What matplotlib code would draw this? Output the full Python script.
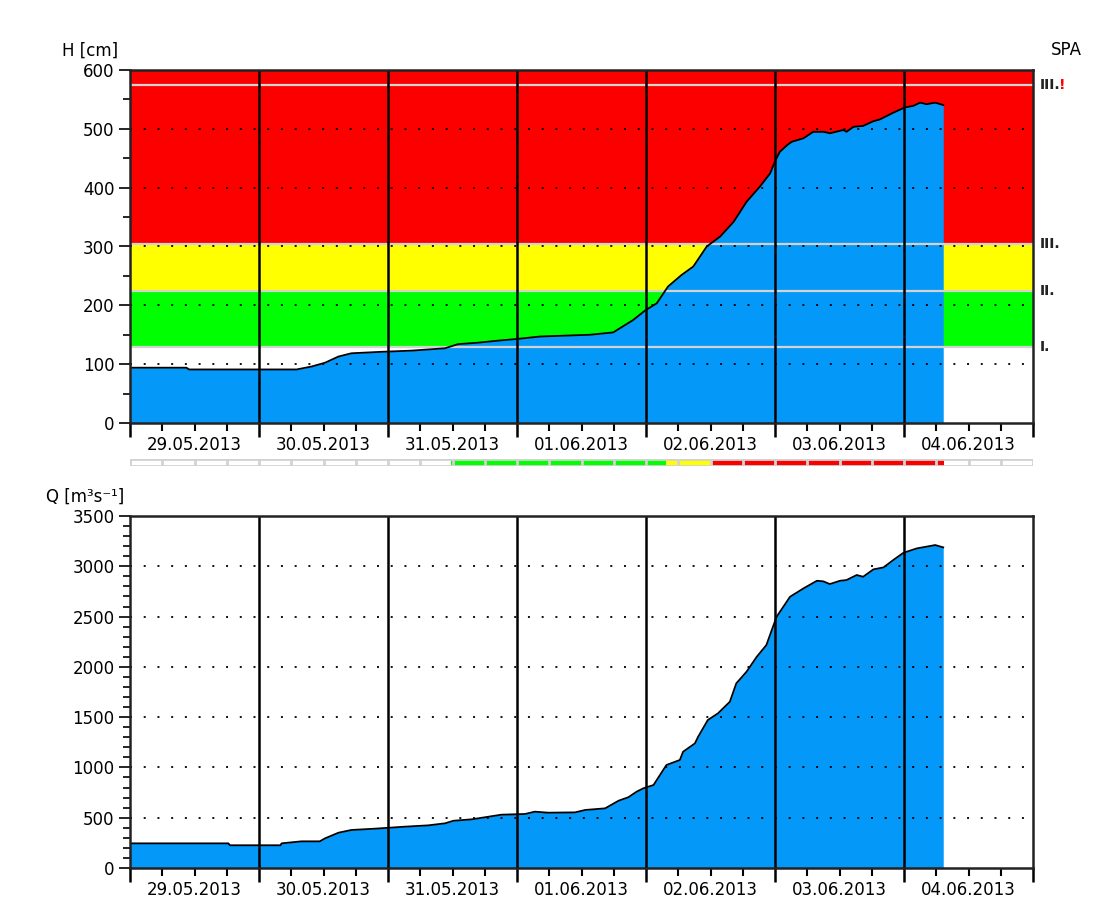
import datetime as dt
import matplotlib
matplotlib.use("Agg")
import matplotlib.pyplot as plt
import numpy as np

# ---------------- data ----------------
start = dt.datetime(2013, 5, 29)
day_labels = ["29.05.2013", "30.05.2013", "31.05.2013", "01.06.2013",
              "02.06.2013", "03.06.2013", "04.06.2013"]

h_hours = [0, 10.5, 11, 31, 33.8, 36.3, 38.8, 41.2, 46.8, 52.4, 58.6, 61, 64.7,
           68.5, 72.2, 76.3, 85.6, 89.9, 93.6, 95.8, 98, 100.1, 102.6, 104.8,
           107.3, 109.8, 112.3, 114.7, 117.2, 119.1, 120, 120.9, 122.2, 123.1,
           125.3, 127.1, 129, 130.2, 132.7, 133.3, 134.6, 136.4, 138.3, 139.5,
           142, 144.2, 145.7, 147, 148.2, 149.8, 151.3]
h_values = [94, 94, 91, 91, 96, 102.5, 113, 118.5, 121, 123, 127, 134, 136.5,
            140, 143, 147, 150, 154, 175, 191, 203.5, 232, 251.5, 266,
            300, 317, 342, 376, 402, 424.5, 445, 461, 472, 478,
            484, 495, 495, 492.5, 498, 495, 503.5, 505, 513, 516,
            527.5, 536.5, 539, 544.5, 542, 544.5, 540.5]

q_hours = [0, 18.3, 18.6, 28, 28.2, 31.9, 35.3, 36.3, 38.8, 41.2, 45.6, 51.2,
           55.5, 58.6, 60.2, 63.6, 66, 69.1, 73.5, 75.3, 77.8, 82.8, 84.7, 88.4,
           90.9, 92.7, 94.3, 95.5, 97.4, 99.8, 102.3, 102.9, 105.1, 105.7, 107.5,
           109.4, 111.6, 112.8, 114.7, 116.6, 118.4, 119.4, 120.3, 122.8, 125.3,
           127.8, 129, 130.2, 132.1, 133.3, 135.2, 136.4, 138.3, 140.2, 142,
           143.9, 146.4, 148.8, 149.8, 151.3]
q_values = [245, 245, 226, 226, 245, 265, 265, 295, 351, 378, 391, 411,
            424, 444, 470, 484, 504, 530, 537, 560, 550, 553, 577, 593,
            669, 703, 760, 792, 825, 1024, 1074, 1156, 1239, 1305, 1471,
            1538, 1653, 1836, 1951, 2100, 2217, 2366, 2498, 2697, 2780,
            2856, 2850, 2823, 2856, 2863, 2913, 2896, 2969, 2989, 3062,
            3134, 3178, 3201, 3211, 3188]

spa_levels = [130, 225, 305, 575]
spa_labels = ["I.", "II.", "III.", "III."]
band_colors = ["#ffffff", "#00ff00", "#ffff00", "#fc0000"]

# ---------------- styling ----------------
plt.rcParams["font.family"] = ["DejaVu Sans"]
plt.rcParams["font.size"] = 11.5
BLUE = "#0499f8"
GRAYLINE = "#d2d2d2"

fig = plt.figure(figsize=(10.93, 9.22), dpi=100)
fig.patch.set_facecolor("white")

L, W = 130 / 1093, 903 / 1093
ax1 = fig.add_axes([L, 1 - 423 / 922, W, 353 / 922])
axb = fig.add_axes([L, 1 - 466 / 922, W, 7 / 922])
ax2 = fig.add_axes([L, 1 - 868 / 922, W, 352 / 922])

t_h = [start + dt.timedelta(hours=h) for h in h_hours]
t_q = [start + dt.timedelta(hours=h) for h in q_hours]
t0 = start
t1 = start + dt.timedelta(days=7)
days = [start + dt.timedelta(days=i) for i in range(8)]
six_h = [start + dt.timedelta(hours=6 * i) for i in range(29)]
noons = [start + dt.timedelta(days=i, hours=12) for i in range(7)]


def style_axis(ax, ymax, major, minor, grid_vals):
    ax.set_xlim(t0, t1)
    ax.set_ylim(0, ymax)
    ax.set_yticks(np.arange(0, ymax + 1, major))
    ax.set_yticks(np.arange(0, ymax + 1, minor), minor=True)
    ax.set_xticks(days)
    ax.set_xticks(six_h, minor=True)
    ax.set_xticklabels([])
    ax.tick_params(axis="y", which="major", length=8, width=1.2, direction="out",
                   pad=3, labelsize=12)
    ax.tick_params(axis="y", which="minor", length=5, width=1.2, direction="out")
    ax.tick_params(axis="x", which="major", length=10, width=1.8, direction="out")
    ax.tick_params(axis="x", which="minor", length=6, width=1.5, direction="out")
    for s in ax.spines.values():
        s.set_linewidth(1.8)
        s.set_color("#222222")
        s.set_zorder(6)
    for g in grid_vals:
        ax.axhline(g, color="black", lw=1.3, ls=(0, (1.1, 6.5)), zorder=4)
    for d in days[1:-1]:
        ax.axvline(d, color="black", lw=1.8, zorder=4)
    for n, lab in zip(noons, day_labels):
        ax.text(n, -0.037, lab, transform=ax.get_xaxis_transform(),
                ha="center", va="top", fontsize=12)


# ---------- top: water level ----------
edges = [0] + spa_levels[:3] + [600]
for lo, hi, c in zip(edges[:-1], edges[1:], band_colors):
    ax1.axhspan(lo, hi, color=c, zorder=0, lw=0)
ax1.fill_between(t_h, 0, h_values, color=BLUE, lw=0, zorder=1)
for lv in spa_levels:
    ax1.axhline(lv, color=GRAYLINE, lw=1.6, zorder=2)
ax1.plot(t_h, h_values, color="black", lw=1.3, zorder=5)
style_axis(ax1, 600, 100, 50, [100, 200, 300, 400, 500])
ax1.text(-0.075, 1.03, "H [cm]", transform=ax1.transAxes, ha="left", va="bottom", fontsize=12)
ax1.text(1.02, 1.03, "SPA", transform=ax1.transAxes, ha="left", va="bottom", fontsize=12)
for lv, lab in zip(spa_levels, spa_labels):
    ax1.text(1.007, lv, lab, transform=ax1.get_yaxis_transform(), ha="left",
             va="center", fontsize=10, fontweight="bold", color="#222222")
ax1.text(1.029, spa_levels[3], "!", transform=ax1.get_yaxis_transform(), ha="left",
         va="center", fontsize=10, fontweight="bold", color="red")

# ---------- indicator bar ----------
axb.set_xlim(t0, t1)
axb.set_ylim(0, 1)
axb.axis("off")
axb.axvspan(t0, t1, color="white", zorder=0)
fine_h = np.arange(0, h_hours[-1], 0.25)
fine_v = np.interp(fine_h, h_hours, h_values)
for hh, vv in zip(fine_h, fine_v):
    lvl = int(np.searchsorted(spa_levels[:3], vv, side="right"))
    if lvl > 0:
        axb.axvspan(start + dt.timedelta(hours=hh), start + dt.timedelta(hours=hh + 0.25),
                    color=band_colors[lvl], lw=0, zorder=1)
for s in six_h:
    axb.axvline(s, color=GRAYLINE, lw=2, zorder=2)
axb.axhline(0, color=GRAYLINE, lw=2, zorder=2)
axb.axhline(1, color=GRAYLINE, lw=2, zorder=2)

# ---------- bottom: discharge ----------
ax2.fill_between(t_q, 0, q_values, color=BLUE, lw=0, zorder=1)
ax2.plot(t_q, q_values, color="black", lw=1.3, zorder=5)
style_axis(ax2, 3500, 500, 100, [500, 1000, 1500, 2000, 2500, 3000])
ax2.text(-0.093, 1.03, "Q [m³s⁻¹]", transform=ax2.transAxes, ha="left", va="bottom", fontsize=12)

fig.savefig("out.png", dpi=100, facecolor="white")
